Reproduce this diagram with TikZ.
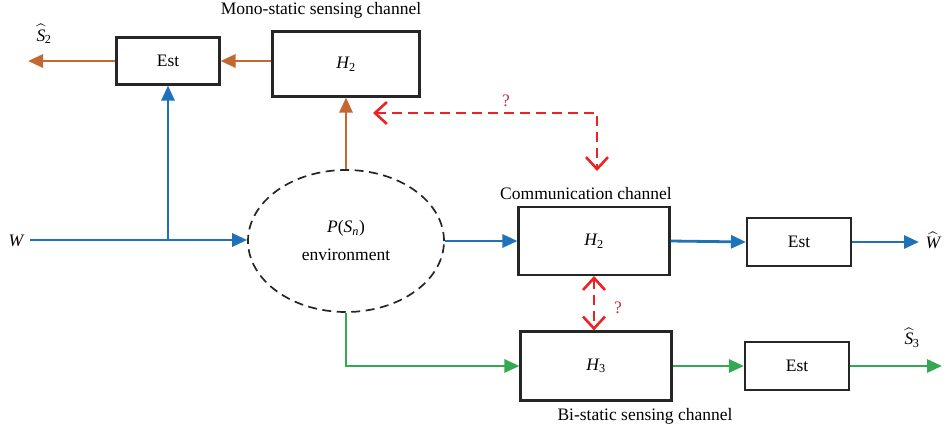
\documentclass[tikz,border=0pt]{standalone}
\usepackage{fontspec}
\setmainfont{Liberation Serif}
\usepackage{amsmath}
\usetikzlibrary{arrows.meta,shapes.geometric}

\definecolor{cblue}{RGB}{31,114,184}
\definecolor{corange}{RGB}{194,104,48}
\definecolor{cgreen}{RGB}{52,168,83}
\definecolor{cred}{RGB}{237,35,35}
\definecolor{cq}{RGB}{190,50,60}

\newcommand{\chH}[1]{{\itshape H}\textsubscript{#1}}
\newcommand{\hatS}[1]{$\widehat{\text{\itshape S}\kern1pt}$\kern-1.5pt\textsubscript{#1}}

\tikzset{
  blk/.style={draw=black!85, line width=2.1pt, inner sep=0pt},
  sig/.style={line width=2.8pt, -{Triangle[length=15pt,width=13pt]}},
  barr/.style={sig, draw=cblue},
  oarr/.style={sig, draw=corange},
  garr/.style={sig, draw=cgreen},
  rdash/.style={draw=cred, line width=2.6pt, dash pattern=on 10pt off 6pt,
    {Straight Barb[length=12pt,width=22pt,line width=2.6pt]}-{Straight Barb[length=12pt,width=22pt,line width=2.6pt]}},
  lbl/.style={inner sep=0pt},
  qm/.style={inner sep=0pt, text=cq},
}

\begin{document}
\begin{tikzpicture}[x=1pt,y=-1pt,font=\fontsize{17.5}{21}\selectfont]
\useasboundingbox (0,0) rectangle (945,436);

% blocks
\node[blk, minimum width=103pt, minimum height=47pt] (est1) at (168,61) {Est};
\node[blk, minimum width=147pt, minimum height=65pt] (h2m) at (346,64) {\chH{2}};
\node[blk, minimum width=151pt, minimum height=68pt] (h2c) at (594,241) {\chH{2}};
\node[blk, minimum width=104pt, minimum height=48pt] (est2) at (799,242) {Est};
\node[blk, minimum width=151pt, minimum height=69pt] (h3) at (596,366) {\chH{3}};
\node[blk, minimum width=104pt, minimum height=48pt] (est3) at (797,366) {Est};

% environment
\node[draw=black!85, ellipse, line width=1.7pt, dash pattern=on 9pt off 5.5pt,
      minimum width=196pt, minimum height=142pt, align=center] (env) at (346,241)
      {{\itshape P}({\itshape S}\textsubscript{\itshape n})\\[7pt]environment};

% titles
\node[lbl] (tm) at (321,10) {Mono-static sensing channel};
\node[lbl] (tc) at (586,194) {Communication channel};
\node[lbl] (tb) at (645,416) {Bi-static sensing channel};

% outputs and input
\node[lbl] (s2) at (44,34) {\hatS{2}};
\node[lbl] (wl) at (16,241) {{\itshape W}};
\node[lbl] (wh) at (933,240) {$\widehat{\text{\itshape W}}$};
\node[lbl] (s3) at (912,338) {\hatS{3}};

\coordinate (s2end) at (28,61);
\coordinate (win) at (30,240);
\coordinate (wend) at (919,242);
\coordinate (s3end) at (942,366);

% mono-static path
\draw[oarr] (h2m.west |- est1.east) -- (est1.east);
\draw[oarr] (est1.west) -- (s2end);
\draw[oarr] (env.north) -- (h2m.south);

% communication path
\draw[barr] (win) -- (env.west |- win);
\draw[barr] (est1.south |- win) -- (est1.south);
\draw[barr] (env.east) -- (h2c.west);
\draw[barr] (h2c.east) -- (est2.west);
\draw[barr] (est2.east) -- (wend);

% bi-static path
\draw[garr] (env.south) -- (env.south |- h3.west) -- (h3.west);
\draw[garr] (h3.east) -- (est3.west);
\draw[garr] (est3.east) -- (s3end);

% unknown correlations
\coordinate (ra) at (373,113);
\coordinate (rb) at (597,171);
\draw[rdash] (ra) -| (rb);
\node[qm] (q1) at (506,101) {?};
\draw[rdash] (h2c.south) -- (h2c.south |- h3.north);
\node[qm] (q2) at (618,308) {?};
\end{tikzpicture}
\end{document}
